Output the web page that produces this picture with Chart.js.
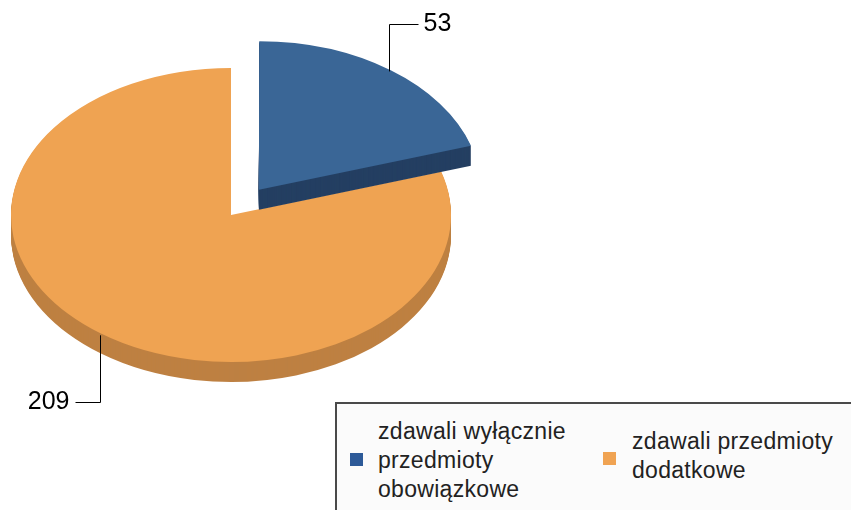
<!DOCTYPE html>
<html lang="pl">
<head>
    <meta charset="UTF-8">
    <title>Zdawali przedmioty</title>
    <script src="https://cdn.jsdelivr.net/npm/chart.js"></script>
    <style>
        body { margin: 0; background: #fff; }
        .wrap { position: relative; width: 851px; height: 510px; overflow: hidden; }
        .legend {
            position: absolute; left: 335px; top: 402px; width: 560px; height: 140px;
            border: 2px solid #4a4a4a; background: #fbfbfb; box-sizing: border-box;
            font-family: "Liberation Sans", Arial, sans-serif; font-size: 23px; letter-spacing: 0.3px;
            line-height: 29px; color: #222;
        }
        .legend .box { position: absolute; width: 13px; height: 13px; }
        .legend .txt { position: absolute; }
    </style>
</head>
<body>
<div class="wrap">
    <canvas id="pie" width="851" height="510"></canvas>
    <div class="legend" id="legend"></div>
</div>
<script>
    const labels = ['zdawali wyłącznie<br>przedmioty<br>obowiązkowe', 'zdawali przedmioty<br>dodatkowe'];
    const values = [53, 209];
    const topColors = ['#3a6696', '#efa352'];
    const sideColors = ['#243f62', '#be8042'];
    const legendColors = ['#2d5a98', '#f0a352'];

    const squash = 147 / 220;   // ellipse ratio of the "3d" view
    const depth = 20;           // thickness of the pie in px
    const labelEndY = [24, 402]; // where the leader lines turn

    function squashed(ctx, chart, dy) {
        const meta = chart.getDatasetMeta(0);
        const cx = meta.data[0].x, cy = meta.data[0].y;
        ctx.translate(0, dy);
        ctx.translate(cx, cy);
        ctx.scale(1, squash);
        ctx.translate(-cx, -cy);
    }

    const pie3d = {
        id: 'pie3d',
        beforeDatasetsDraw(chart) {
            const ctx = chart.ctx;
            const arcs = chart.getDatasetMeta(0).data;
            // big slice first, then the pulled out one on top of it
            [1, 0].forEach(i => {
                const arc = arcs[i];
                const base = arc.options.backgroundColor;
                arc.options.backgroundColor = sideColors[i];
                for (let d = depth; d >= 1; d--) {
                    ctx.save();
                    squashed(ctx, chart, d);
                    arc.draw(ctx);
                    ctx.restore();
                }
                arc.options.backgroundColor = base;
                ctx.save();
                squashed(ctx, chart, 0);
                arc.draw(ctx);
                ctx.restore();
            });
            return false;
        },
        afterDraw(chart) {
            const ctx = chart.ctx;
            const arcs = chart.getDatasetMeta(0).data;
            ctx.save();
            ctx.strokeStyle = '#000';
            ctx.lineWidth = 1;
            ctx.fillStyle = '#000';
            ctx.font = '25px "Liberation Sans", Arial, sans-serif';
            ctx.textBaseline = 'middle';
            arcs.forEach((arc, i) => {
                const mid = (arc.startAngle + arc.endAngle) / 2;
                // chart.js moves a slice by offset / 4
                const r = arc.outerRadius + (arc.options.offset || 0) / 4;
                const x = Math.round(arc.x + Math.cos(mid) * r) + 0.5;
                const y = arc.y + Math.sin(mid) * r * squash + (Math.sin(mid) > 0 ? 2 : 0);
                const ey = labelEndY[i] + 0.5;
                const right = Math.cos(mid) > 0;
                const ex = right ? x + 29 : x - 25;
                ctx.beginPath();
                ctx.moveTo(x, y);
                ctx.lineTo(x, ey);
                ctx.lineTo(ex, ey);
                ctx.stroke();
                ctx.textAlign = right ? 'left' : 'right';
                ctx.fillText(String(values[i]), right ? ex + 5 : ex - 6, ey);
            });
            ctx.restore();
        }
    };

    new Chart(document.getElementById('pie'), {
        type: 'pie',
        data: {
            labels: labels.map(l => l.replace(/<br>/g, ' ')),
            datasets: [{
                data: values,
                backgroundColor: topColors,
                borderWidth: 0,
                offset: [188, 0],
                hoverOffset: 0
            }]
        },
        options: {
            responsive: false,
            animation: false,
            radius: 220,
            layout: { padding: { left: 0, top: 0, right: 389, bottom: 80 } },
            plugins: { legend: { display: false }, tooltip: { enabled: false } },
            events: []
        },
        plugins: [pie3d]
    });

    // legend box in the lower right corner
    const legendPos = [
        { box: [13, 49], txt: [41, 13] },
        { box: [266, 48], txt: [295, 23] }
    ];
    document.getElementById('legend').innerHTML = labels.map((l, i) =>
        `<div class="box" style="left:${legendPos[i].box[0]}px;top:${legendPos[i].box[1]}px;background:${legendColors[i]}"></div>` +
        `<div class="txt" style="left:${legendPos[i].txt[0]}px;top:${legendPos[i].txt[1]}px">${l}</div>`
    ).join('');
</script>
</body>
</html>
